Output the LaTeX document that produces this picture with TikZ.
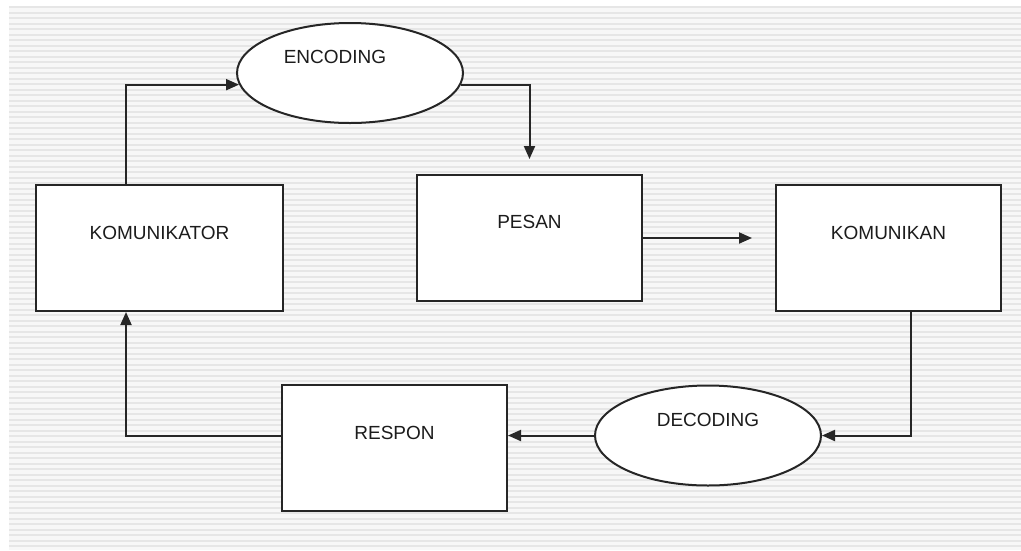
\documentclass[tikz,border=0pt]{standalone}
\usepackage{fontspec}
\setmainfont{Liberation Sans}
\usetikzlibrary{shapes.geometric,arrows.meta,calc}

\definecolor{inkgray}{HTML}{262626}
\definecolor{textgray}{HTML}{1C1C1C}
\definecolor{stripebg}{HTML}{F7F7F7}
\definecolor{stripeln}{HTML}{E6E6E6}

\begin{document}
\begin{tikzpicture}[x=1pt,y=-1pt,
  box/.style={draw=inkgray,line width=2pt,fill=white,minimum width=225pt,minimum height=126pt,inner sep=0pt},
  oval/.style={ellipse,draw=inkgray,line width=2pt,fill=white,minimum width=226pt,minimum height=100pt,inner sep=0pt},
  lbl/.style={text=textgray,font=\fontsize{19}{23}\selectfont,inner sep=0pt},
  arr/.style={draw=inkgray,line width=2pt,-{Triangle[length=13pt,width=11pt]}}]

\useasboundingbox (0,0) rectangle (1021,550);

% striped backdrop
\fill[white] (0,0) rectangle (1021,550);
\fill[stripebg] (9,6) rectangle (1021,550);
\foreach \yy in {6,11.5,...,548}
  \fill[stripeln] (9,\yy) rectangle (1021,\yy+2.4);

% boxes and ovals
\node[box,minimum width=247pt] (kom) at (159.5,248) {};
\node[box] (pes) at (529.5,238) {};
\node[box] (kmn) at (888.5,247.5) {};
\node[box] (res) at (394.5,448) {};
\node[oval] (enc) at (350,73) {};
\node[oval] (dec) at (708,435.5) {};

% labels, set a little above the centres
\node[lbl] (komT) at ([yshift=15pt]kom.center) {KOMUNIKATOR};
\node[lbl] (pesT) at ([yshift=16pt]pes.center) {PESAN};
\node[lbl] (kmnT) at ([yshift=15pt]kmn.center) {KOMUNIKAN};
\node[lbl] (resT) at ([yshift=15pt]res.center) {RESPON};
\node[lbl] (encT) at ([xshift=-15pt,yshift=16pt]enc.center) {ENCODING};
\node[lbl] (decT) at ([yshift=16pt]dec.center) {DECODING};

% connectors
\coordinate (pk) at (kmn.west |- pes.east);
\draw[arr] ([xshift=-33.5pt]kom.north) |- (enc.186.8);
\draw[arr] (enc.-6.8) -| ([yshift=15pt]pes.north);
\draw[arr] (pes.east) -- ([xshift=-23pt]pk);
\draw[arr] ([xshift=22.5pt]kmn.south) |- (dec.east);
\draw[arr] (dec.west) -- (res.east |- dec.west);
\draw[arr] (res.west |- dec.west) -| ([xshift=-33.5pt]kom.south);

\end{tikzpicture}
\end{document}
